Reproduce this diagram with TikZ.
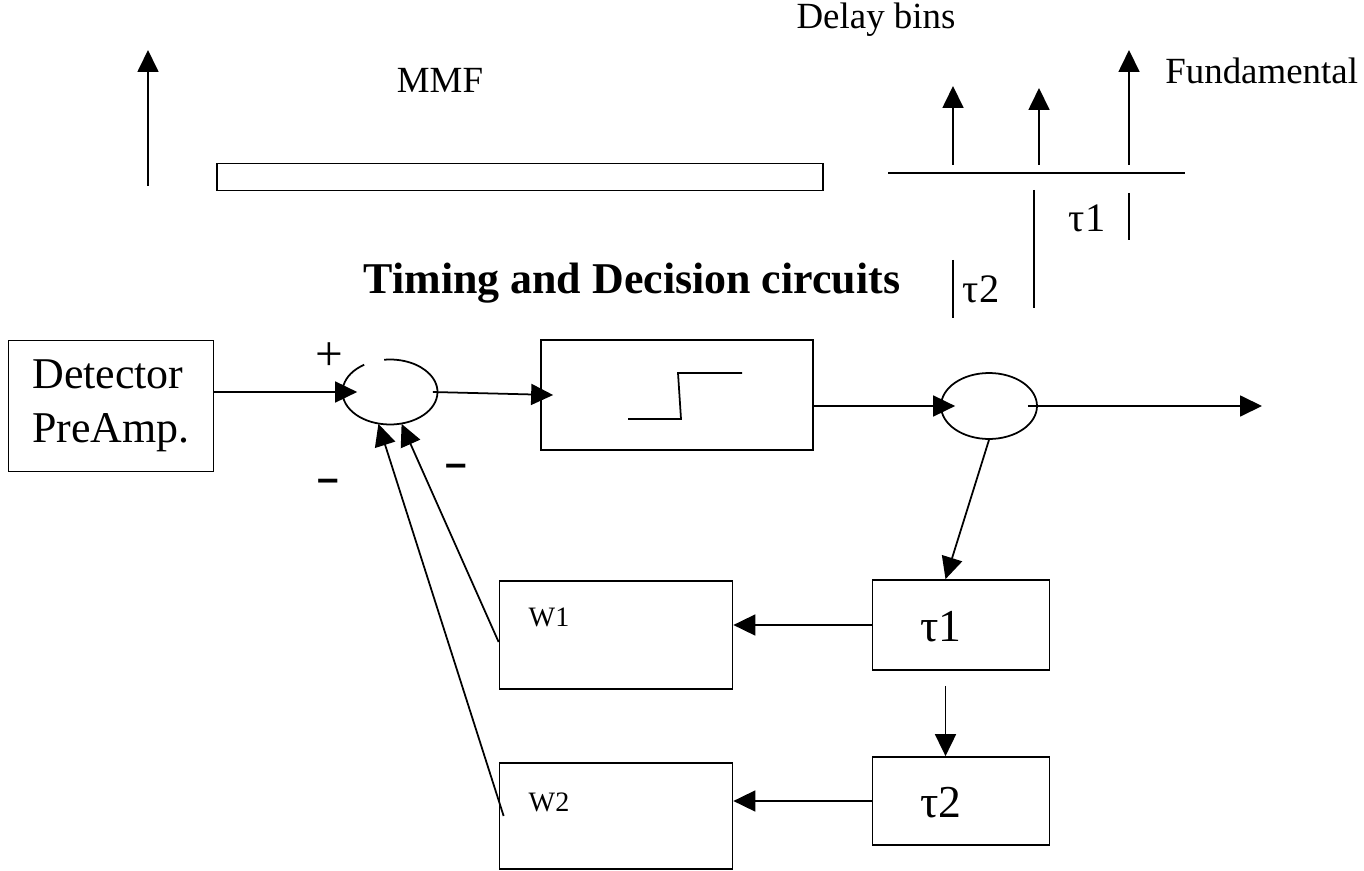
\documentclass[tikz,border=0pt]{standalone}
\usepackage{fontspec}
\setmainfont{Liberation Serif}
\newfontfamily\signfont{Liberation Sans}
\usetikzlibrary{arrows.meta,shapes.geometric}
\tikzset{
  geom/.style={draw=black, line width=1pt},
  sig/.style={geom, -{Triangle[length=0.44cm, width=0.42cm]}},
  blk/.style={geom, rectangle, inner sep=0pt},
  sumnode/.style={ellipse, inner sep=0pt},
  lab/.style={font=\fontsize{21}{25}\selectfont, inner sep=0pt},
  big/.style={font=\fontsize{25}{31}\selectfont, inner sep=0pt},
  wlab/.style={font=\fontsize{16}{19}\selectfont, inner sep=0pt},
  sgn/.style={font=\fontsize{22}{26}\signfont\bfseries, inner sep=0pt}
}

\begin{document}
\begin{tikzpicture}[x=0.02cm, y=-0.02cm]
  \useasboundingbox (0,0) rectangle (1364,871);

  % top strip: MMF and delay bins
  \coordinate (mmfB) at (148,186);
  \coordinate (mmfT) at (148,50);
  \draw[sig] (mmfB) -- (mmfT);
  \node[lab] (mmf) at (440,80) {MMF};
  \node[blk, minimum width=12.12cm, minimum height=0.54cm] (mmfbar) at (520,177) {};

  \node[lab] (bins) at (876,20) {Delay bins};
  \node[lab, anchor=west] (fund) at (1165,71) {Fundamental};
  \coordinate (axL) at (888,173);
  \coordinate (axR) at (1185,173);
  \draw[geom] (axL) -- (axR);
  \foreach \x/\t in {953/86, 1039/88, 1129/50}
    \draw[sig] (\x,165) -- (\x,\t);
  \draw[geom] (1034,190) -- (1034,308);
  \draw[geom] (1129,193) -- (1129,240);
  \draw[geom] (953,260) -- (953,318);
  \node[big, font=\fontsize{23}{27}\selectfont] (tauOne) at (1087,218) {τ1};
  \node[big, font=\fontsize{23}{27}\selectfont] (tauTwo) at (981,289) {τ2};

  \node[big, font=\fontsize{25}{29}\selectfont\bfseries] (title) at (632,283) {Timing and Decision circuits};

  % loop
  \node[blk, big, align=left, minimum width=4.1cm, minimum height=2.62cm] (det) at (111,406) {Detector\\PreAmp.};
  \node[sumnode, minimum width=1.9cm, minimum height=1.3cm] (sumA) at (390,392) {};
  \draw[geom] ([shift={(123:0.95cm and 0.65cm)}]sumA.center)
    arc[start angle=123, end angle=457, x radius=0.95cm, y radius=0.65cm];
  \node[blk, minimum width=5.44cm, minimum height=2.2cm] (thr) at (677,395) {};
  \draw[geom] (628,419) -- (681,419) -- (678,373) -- (742,373);
  \node[sumnode, geom, minimum width=1.92cm, minimum height=1.32cm] (sumB) at (989,406) {};

  \node[blk, minimum width=4.66cm, minimum height=2.16cm] (wA) at (616,635) {};
  \node[blk, minimum width=4.66cm, minimum height=2.12cm] (wB) at (616,816) {};
  \node[blk, minimum width=3.54cm, minimum height=1.8cm] (tauA) at (961,625) {};
  \node[blk, minimum width=3.54cm, minimum height=1.76cm] (tauB) at (961,801) {};
  \node[wlab] (wAl) at (549,617) {W1};
  \node[wlab] (wBl) at (549,802) {W2};
  \node[big, font=\fontsize{26}{30}\selectfont] (tauAl) at (941,627) {τ1};
  \node[big, font=\fontsize{26}{30}\selectfont] (tauBl) at (941,803) {τ2};

  \node[big, font=\fontsize{28}{32}\selectfont] (plus) at (329,357) {+};
  \node[sgn] (minA) at (328,485) {–};
  \node[sgn] (minB) at (456,470) {–};

  \coordinate (out) at (1262,406);
  \draw[sig] (det.east |- sumA) -- ([xshift=0.3cm]sumA.west);
  \draw[sig] ([xshift=-0.1cm]sumA.east) -- ([xshift=0.26cm]thr.west);
  \draw[sig] (thr.east |- sumB) -- ([xshift=0.3cm]sumB.west);
  \draw[sig] ([xshift=-0.2cm]sumB.east) -- (out);
  \draw[sig] (sumB.south) -- ([xshift=-0.31cm]tauA.north);
  \draw[sig] ([xshift=-0.31cm,yshift=-0.3cm]tauA.south) -- ([xshift=-0.31cm]tauB.north);
  \draw[sig] (tauA.west) -- (tauA.west -| wA.east);
  \draw[sig] (tauB.west) -- (tauB.west -| wB.east);
  \draw[sig] ([yshift=-0.14cm]wA.west) -- (sumA.290);
  \draw[sig] ([xshift=0.1cm]wB.west) -- (sumA.250);
\end{tikzpicture}
\end{document}
